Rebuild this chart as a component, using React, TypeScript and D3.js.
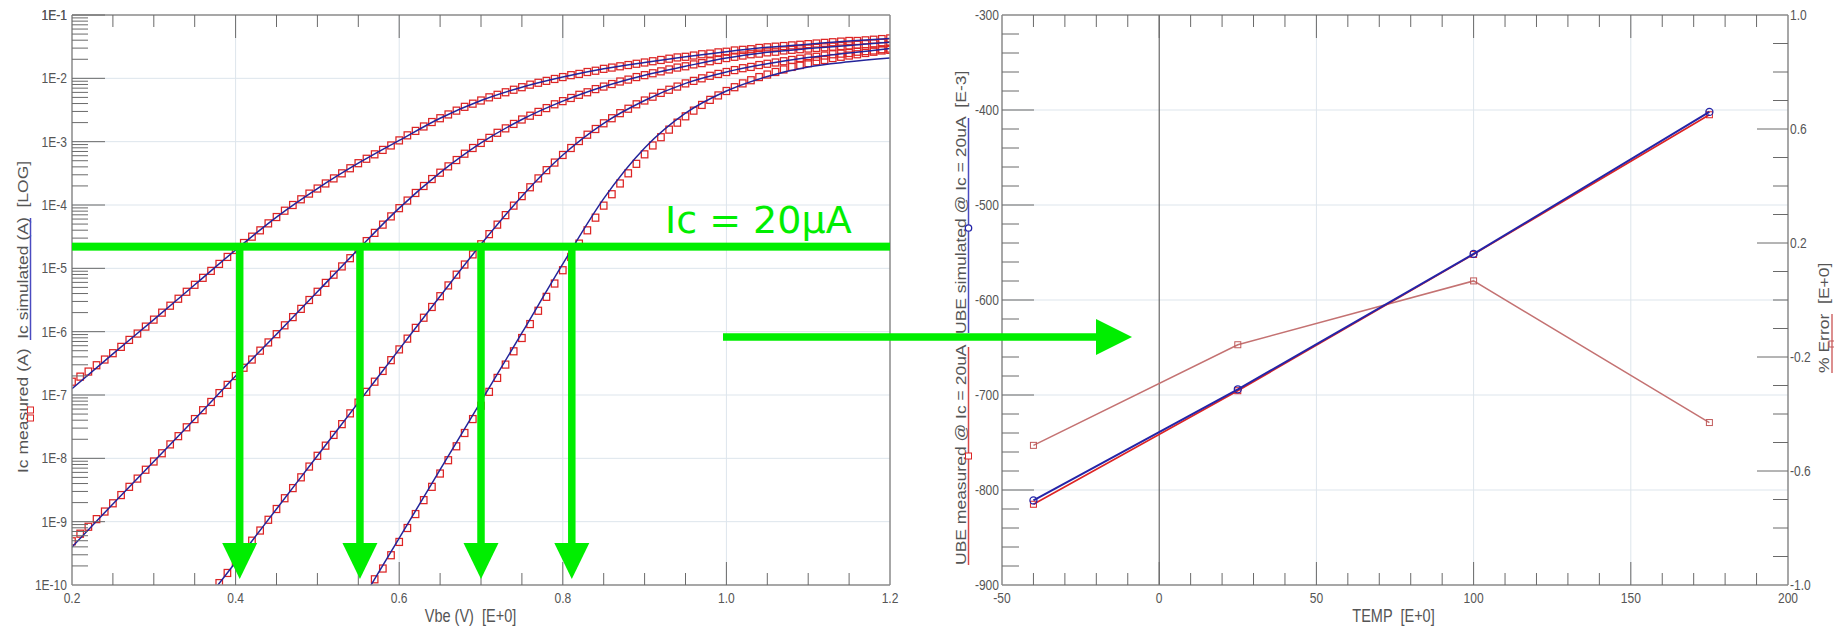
import React, { useEffect, useRef } from 'react';
import * as d3 from 'd3';

// vbe sweep of the measurement (V), 10 mV steps
const vbeSweep = [
  0.20, 0.21, 0.22, 0.23, 0.24, 0.25, 0.26, 0.27, 0.28, 0.29,
  0.30, 0.31, 0.32, 0.33, 0.34, 0.35, 0.36, 0.37, 0.38, 0.39,
  0.40, 0.41, 0.42, 0.43, 0.44, 0.45, 0.46, 0.47, 0.48, 0.49,
  0.50, 0.51, 0.52, 0.53, 0.54, 0.55, 0.56, 0.57, 0.58, 0.59,
  0.60, 0.61, 0.62, 0.63, 0.64, 0.65, 0.66, 0.67, 0.68, 0.69,
  0.70, 0.71, 0.72, 0.73, 0.74, 0.75, 0.76, 0.77, 0.78, 0.79,
  0.80, 0.81, 0.82, 0.83, 0.84, 0.85, 0.86, 0.87, 0.88, 0.89,
  0.90, 0.91, 0.92, 0.93, 0.94, 0.95, 0.96, 0.97, 0.98, 0.99,
  1.00, 1.01, 1.02, 1.03, 1.04, 1.05, 1.06, 1.07, 1.08, 1.09,
  1.10, 1.11, 1.12, 1.13, 1.14, 1.15, 1.16, 1.17, 1.18, 1.19, 1.20,
];

// measured Ic as log10(A), each list lines up with the END of the sweep
const icMeas175 = [
  -6.79, -6.71, -6.63, -6.53, -6.44, -6.34, -6.24, -6.13, -6.03, -5.92,
  -5.81, -5.70, -5.59, -5.48, -5.37, -5.26, -5.15, -5.04, -4.93, -4.82,
  -4.71, -4.60, -4.50, -4.40, -4.29, -4.19, -4.09, -4.00, -3.91, -3.82,
  -3.74, -3.66, -3.58, -3.50, -3.42, -3.34, -3.27, -3.20, -3.13, -3.06,
  -2.98, -2.90, -2.83, -2.76, -2.69, -2.63, -2.57, -2.51, -2.45, -2.40,
  -2.35, -2.30, -2.26, -2.22, -2.18, -2.14, -2.10, -2.07, -2.04, -2.01,
  -1.98, -1.95, -1.93, -1.90, -1.88, -1.85, -1.83, -1.81, -1.79, -1.77,
  -1.75, -1.73, -1.71, -1.69, -1.67, -1.66, -1.64, -1.62, -1.61, -1.59,
  -1.58, -1.56, -1.55, -1.54, -1.52, -1.51, -1.50, -1.49, -1.48, -1.47,
  -1.46, -1.45, -1.44, -1.43, -1.42, -1.41, -1.41, -1.40, -1.39, -1.38, -1.37,
];
const icMeas100 = [
  -9.31, -9.19, -9.08, -8.96, -8.84, -8.71, -8.58, -8.45, -8.32, -8.18,
  -8.05, -7.92, -7.78, -7.65, -7.51, -7.38, -7.24, -7.11, -6.97, -6.84,
  -6.70, -6.57, -6.44, -6.30, -6.17, -6.04, -5.90, -5.77, -5.64, -5.50,
  -5.37, -5.23, -5.10, -4.97, -4.84, -4.70, -4.57, -4.44, -4.31, -4.18,
  -4.05, -3.93, -3.81, -3.70, -3.59, -3.49, -3.39, -3.29, -3.19, -3.10,
  -3.02, -2.94, -2.86, -2.79, -2.72, -2.65, -2.59, -2.53, -2.47, -2.41,
  -2.36, -2.31, -2.26, -2.22, -2.17, -2.13, -2.09, -2.05, -2.02, -1.98,
  -1.95, -1.92, -1.89, -1.86, -1.83, -1.81, -1.78, -1.76, -1.73, -1.71,
  -1.68, -1.66, -1.64, -1.62, -1.61, -1.59, -1.58, -1.56, -1.55, -1.54,
  -1.53, -1.52, -1.51, -1.50, -1.49, -1.48, -1.47, -1.46, -1.45, -1.44, -1.43,
];
const icMeas25 = [
  -9.97, -9.81,
  -9.64, -9.47, -9.30, -9.14, -8.97, -8.80, -8.63, -8.47, -8.30, -8.13,
  -7.96, -7.80, -7.63, -7.46, -7.29, -7.12, -6.95, -6.79, -6.62, -6.45,
  -6.28, -6.11, -5.94, -5.78, -5.61, -5.44, -5.27, -5.10, -4.94, -4.78,
  -4.62, -4.46, -4.31, -4.16, -4.01, -3.86, -3.72, -3.58, -3.45, -3.33,
  -3.21, -3.10, -2.99, -2.89, -2.80, -2.71, -2.63, -2.55, -2.48, -2.41,
  -2.35, -2.29, -2.23, -2.18, -2.13, -2.08, -2.04, -2.00, -1.96, -1.93,
  -1.90, -1.87, -1.84, -1.82, -1.79, -1.77, -1.75, -1.73, -1.71, -1.69,
  -1.67, -1.66, -1.64, -1.62, -1.61, -1.60, -1.58, -1.57, -1.56, -1.54, -1.53,
];
const icMeasM40 = [
  -9.91, -9.74, -9.53,
  -9.32, -9.10, -8.88, -8.66, -8.45, -8.24, -8.03, -7.81, -7.60, -7.38,
  -7.17, -6.95, -6.73, -6.52, -6.31, -6.10, -5.88, -5.67, -5.45, -5.24,
  -5.03, -4.82, -4.61, -4.40, -4.20, -4.01, -3.83, -3.66, -3.50, -3.35,
  -3.20, -3.06, -2.93, -2.81, -2.70, -2.60, -2.51, -2.42, -2.34, -2.27,
  -2.20, -2.14, -2.08, -2.03, -1.98, -1.94, -1.90, -1.86, -1.82, -1.79,
  -1.76, -1.73, -1.71, -1.68, -1.66, -1.64, -1.62, -1.60, -1.58, -1.56, -1.55,
];

// simulated Ic (model curves), coarser vbe grid, log10(A)
const simVbeWide = [0.20, 0.25, 0.30, 0.35, 0.40, 0.45, 0.50, 0.55, 0.60, 0.65, 0.70, 0.75, 0.80, 0.85, 0.90, 0.95, 1.00, 1.05, 1.10, 1.15, 1.20];
const icSim175 = [-6.90, -6.35, -5.81, -5.26, -4.71, -4.19, -3.74, -3.34, -2.98, -2.63, -2.35, -2.14, -1.98, -1.85, -1.75, -1.66, -1.58, -1.51, -1.46, -1.41, -1.37];
const icSim100 = [-9.40, -8.72, -8.05, -7.38, -6.70, -6.04, -5.37, -4.70, -4.05, -3.49, -3.02, -2.65, -2.36, -2.13, -1.95, -1.81, -1.68, -1.59, -1.53, -1.48, -1.43];
const simVbe25 = [0.37, 0.40, 0.45, 0.50, 0.55, 0.60, 0.65, 0.70, 0.75, 0.80, 0.85, 0.90, 0.95, 1.00, 1.05, 1.10, 1.15, 1.20];
const icSim25 = [-10.14, -9.64, -8.80, -7.96, -7.12, -6.28, -5.44, -4.62, -3.86, -3.21, -2.71, -2.35, -2.08, -1.90, -1.77, -1.67, -1.60, -1.53];
const simVbeM40 = [0.56, 0.60, 0.65, 0.70, 0.75, 0.80, 0.85, 0.90, 0.95, 1.00, 1.05, 1.10, 1.15, 1.20];
const icSimM40 = [-10.12, -9.26, -8.18, -7.10, -6.02, -4.93, -3.90, -3.10, -2.55, -2.20, -1.97, -1.82, -1.74, -1.68];

// right chart: UBE @ Ic = 20uA vs temperature
const temps = [-40, 25, 100, 175];
const ubeSim = [-811, -694, -551.5, -402];
const ubeMeas = [-815, -695.5, -552, -405];
const errPct = [-0.51, -0.157, 0.067, -0.43];

// the green annotation: 20uA level and where it cuts each curve
const markLevel = 2.2e-5;
const crossVbe = [0.405, 0.552, 0.70, 0.811];

const W = 1834;
const H = 628;

const App: React.FC = () => {
  const svgRef = useRef<SVGSVGElement | null>(null);

  useEffect(() => {
    if (!svgRef.current) return;
    const svg = d3.select(svgRef.current);
    svg.selectAll('*').remove();

    const sq = 0.83; // the source picture is squeezed sideways, text gets the same squeeze
    const font = "'Liberation Sans', Arial, sans-serif";
    const txtCol = '#555';
    const gridCol = '#dde5ec';
    const axisCol = '#8a8a8a';
    const tickCol = '#6a6a6a';
    const simBlue = '#24249a';
    const measRed = '#dd2424';
    const green = '#00ee00';

    const hText = (x: number, y: number, s: string, size: number, anchor: string, dy = '0') =>
      svg.append('text')
        .attr('transform', `translate(${x},${y}) scale(${sq},1)`)
        .attr('text-anchor', anchor)
        .attr('dy', dy)
        .style('font-family', font)
        .style('font-size', `${size}px`)
        .style('white-space', 'pre')
        .attr('fill', txtCol)
        .text(s);

    const vText = (x: number, y: number, s: string, size: number) =>
      svg.append('text')
        .attr('transform', `translate(${x},${y}) scale(${sq},1) rotate(-90)`)
        .attr('text-anchor', 'start')
        .style('font-family', font)
        .style('font-size', `${size}px`)
        .style('white-space', 'pre')
        .attr('fill', txtCol)
        .text(s);

    const line = (x1: number, y1: number, x2: number, y2: number, col: string, w = 1) =>
      svg.append('line')
        .attr('x1', x1).attr('y1', y1).attr('x2', x2).attr('y2', y2)
        .attr('stroke', col).attr('stroke-width', w);

    // ---------------- left: gummel plot ----------------
    const L = { x0: 72, x1: 890, y0: 15, y1: 585 };
    const xV = d3.scaleLinear().domain([0.2, 1.2]).range([L.x0, L.x1]);
    const yI = d3.scaleLog().domain([1e-10, 1e-1]).range([L.y1, L.y0]);

    const decades = d3.range(-10, 0);
    const vMajor = [0.2, 0.4, 0.6, 0.8, 1.0, 1.2];
    const vMinor = d3.range(0, 21).map(i => 0.2 + i * 0.05);

    // grid
    vMajor.slice(1, -1).forEach(v => line(xV(v), L.y0, xV(v), L.y1, gridCol));
    decades.slice(1, -1).forEach(e => line(L.x0, yI(10 ** e), L.x1, yI(10 ** e), gridCol));

    const defs = svg.append('defs');
    defs.append('clipPath').attr('id', 'clipL')
      .append('rect').attr('x', L.x0).attr('y', L.y0).attr('width', L.x1 - L.x0).attr('height', L.y1 - L.y0);

    const plotL = svg.append('g').attr('clip-path', 'url(#clipL)');

    const simLine = d3.line<[number, number]>()
      .x(d => xV(d[0]))
      .y(d => yI(10 ** d[1]))
      .curve(d3.curveMonotoneX);

    const sims: [number[], number[]][] = [
      [simVbeWide, icSim175],
      [simVbeWide, icSim100],
      [simVbe25, icSim25],
      [simVbeM40, icSimM40],
    ];
    const meas = [icMeas175, icMeas100, icMeas25, icMeasM40];

    // measured squares first, model line on top
    meas.forEach(arr => {
      const off = vbeSweep.length - arr.length;
      plotL.selectAll(null)
        .data(arr)
        .enter().append('rect')
        .attr('x', (_, i) => xV(vbeSweep[off + i]) - 3.25)
        .attr('y', d => yI(10 ** d) - 3.5)
        .attr('width', 6.5)
        .attr('height', 7)
        .attr('fill', 'none')
        .attr('stroke', measRed)
        .attr('stroke-width', 1.25);
    });
    sims.forEach(([vs, ls]) => {
      plotL.append('path')
        .attr('d', simLine(vs.map((v, i) => [v, ls[i]] as [number, number])))
        .attr('fill', 'none')
        .attr('stroke', simBlue)
        .attr('stroke-width', 1.5);
    });

    // frame
    line(L.x0, L.y0, L.x1, L.y0, axisCol, 1.5);
    line(L.x1, L.y0, L.x1, L.y1, axisCol, 1.5);
    line(L.x0, L.y0, L.x0, L.y1, axisCol, 1.5);
    line(L.x0, L.y1, L.x1, L.y1, axisCol, 1.5);

    // x ticks, top and bottom
    vMinor.forEach((v, i) => {
      if (i === 0 || i === vMinor.length - 1) return;
      const len = i % 4 === 0 ? 23 : 12;
      line(xV(v), L.y1, xV(v), L.y1 - len, tickCol);
      line(xV(v), L.y0, xV(v), L.y0 + len, tickCol);
    });
    // y ticks, log minors 2..9
    decades.forEach(e => {
      for (let k = 2; k <= 9; k++) {
        const yy = yI(k * 10 ** e);
        line(L.x0, yy, L.x0 + 16, yy, tickCol);
      }
      if (e > -10) line(L.x0, yI(10 ** e), L.x0 + 33, yI(10 ** e), tickCol);
    });

    vMajor.forEach(v => hText(xV(v), 602.5, v.toFixed(1), 14.5, 'middle'));
    [...decades, -1].forEach(e => hText(67, yI(10 ** e), `1E${e}`, 14.5, 'end', '0.35em'));

    hText(470.5, 622, 'Vbe (V)  [E+0]', 17.5, 'middle');
    vText(28, 473, 'Ic measured (A)  Ic simulated (A)  [LOG]', 17.5);
    // legend marks inside the axis title
    line(30.5, 218, 30.5, 340, '#4a4ac0', 1.5);
    [410, 418].forEach(yy =>
      svg.append('rect').attr('x', 27.5).attr('y', yy - 3).attr('width', 6).attr('height', 6)
        .attr('fill', 'none').attr('stroke', measRed).attr('stroke-width', 1));

    // ---------------- right: UBE vs temperature ----------------
    const R = { x0: 1002, x1: 1788, y0: 15, y1: 585 };
    const xT = d3.scaleLinear().domain([-50, 200]).range([R.x0, R.x1]);
    const yU = d3.scaleLinear().domain([-900, -300]).range([R.y1, R.y0]);
    const yE = d3.scaleLinear().domain([-1, 1]).range([R.y1, R.y0]);

    [50, 100, 150].forEach(t => line(xT(t), R.y0, xT(t), R.y1, gridCol));
    [-800, -700, -600, -500, -400].forEach(u => line(R.x0, yU(u), R.x1, yU(u), gridCol));
    line(xT(0), R.y0, xT(0), R.y1, '#4a4a4a', 1);

    const ptsE = temps.map((t, i) => [xT(t), yE(errPct[i])] as [number, number]);
    const ptsM = temps.map((t, i) => [xT(t), yU(ubeMeas[i])] as [number, number]);
    const ptsS = temps.map((t, i) => [xT(t), yU(ubeSim[i])] as [number, number]);
    const poly = d3.line();

    svg.append('path').attr('d', poly(ptsE)).attr('fill', 'none').attr('stroke', '#c47272').attr('stroke-width', 1.5);
    svg.selectAll(null).data(ptsE).enter().append('rect')
      .attr('x', d => d[0] - 3).attr('y', d => d[1] - 3).attr('width', 6).attr('height', 6)
      .attr('fill', 'none').attr('stroke', '#c05a5a').attr('stroke-width', 1);

    svg.append('path').attr('d', poly(ptsM)).attr('fill', 'none').attr('stroke', measRed).attr('stroke-width', 1.6);
    svg.selectAll(null).data(ptsM).enter().append('rect')
      .attr('x', d => d[0] - 3).attr('y', d => d[1] - 3).attr('width', 6).attr('height', 6)
      .attr('fill', 'none').attr('stroke', measRed).attr('stroke-width', 1);

    svg.append('path').attr('d', poly(ptsS)).attr('fill', 'none').attr('stroke', '#2424a8').attr('stroke-width', 2);
    svg.selectAll(null).data(ptsS).enter().append('circle')
      .attr('cx', d => d[0]).attr('cy', d => d[1]).attr('r', 3.5)
      .attr('fill', 'none').attr('stroke', '#2424a8').attr('stroke-width', 1.3);

    // frame
    line(R.x0, R.y0, R.x1, R.y0, axisCol, 1.5);
    line(R.x1, R.y0, R.x1, R.y1, axisCol, 1.5);
    line(R.x0, R.y0, R.x0, R.y1, axisCol, 1.5);
    line(R.x0, R.y1, R.x1, R.y1, axisCol, 1.5);

    d3.range(-40, 200, 10).forEach(t => {
      const len = t % 50 === 0 ? 23 : 12;
      line(xT(t), R.y1, xT(t), R.y1 - len, tickCol);
      line(xT(t), R.y0, xT(t), R.y0 + len, tickCol);
    });
    d3.range(-880, -300, 20).forEach(u => {
      const len = u % 100 === 0 ? 32 : 17;
      line(R.x0, yU(u), R.x0 + len, yU(u), tickCol);
    });
    d3.range(-9, 10).forEach(i => {
      const len = (i + 10) % 4 === 0 ? 31 : 15;
      line(R.x1, yE(i / 10), R.x1 - len, yE(i / 10), tickCol);
    });

    d3.range(-50, 201, 50).forEach(t => hText(xT(t), 602.5, String(t), 14.5, 'middle'));
    d3.range(-900, -299, 100).forEach(u => hText(999, yU(u), String(u), 14.5, 'end', '0.35em'));
    [-1, -0.6, -0.2, 0.2, 0.6, 1].forEach(e => hText(1790, yE(e), e.toFixed(1), 14.5, 'start', '0.35em'));

    hText(1393.5, 622, 'TEMP  [E+0]', 17.5, 'middle');
    vText(966, 565, 'UBE measured @ Ic = 20uA', 17.5);
    vText(966, 334, 'UBE simulated @ Ic = 20uA  [E-3]', 17.5);
    vText(1829, 373, '% Error  [E+0]', 17.5);

    line(968.5, 347, 968.5, 565, '#d84848', 1.5);
    svg.append('rect').attr('x', 965.5).attr('y', 453).attr('width', 6).attr('height', 6)
      .attr('fill', '#fff').attr('stroke', measRed).attr('stroke-width', 1);
    line(968.5, 118, 968.5, 333, '#4a4ac0', 1.5);
    svg.append('circle').attr('cx', 968.5).attr('cy', 228).attr('r', 3.2)
      .attr('fill', '#fff').attr('stroke', '#2424a8').attr('stroke-width', 1.3);
    line(1832, 314, 1832, 373, '#d06a6a', 1.5);
    svg.append('rect').attr('x', 1829).attr('y', 341).attr('width', 6).attr('height', 6)
      .attr('fill', 'none').attr('stroke', '#c05a5a').attr('stroke-width', 1);

    // ---------------- green annotation on top ----------------
    const yMark = yI(markLevel);
    const headTop = 543;
    const headTip = 579;
    svg.append('rect').attr('x', L.x0).attr('y', yMark - 4).attr('width', L.x1 - L.x0).attr('height', 8).attr('fill', green);
    crossVbe.forEach(v => {
      const cx = xV(v);
      svg.append('rect').attr('x', cx - 3.75).attr('y', yMark).attr('width', 7.5).attr('height', headTop - yMark).attr('fill', green);
      svg.append('polygon')
        .attr('points', `${cx - 17.5},${headTop} ${cx + 17.5},${headTop} ${cx},${headTip}`)
        .attr('fill', green);
    });
    svg.append('rect').attr('x', 723).attr('y', 333.25).attr('width', 374).attr('height', 7.5).attr('fill', green);
    svg.append('polygon').attr('points', '1096,319 1096,355 1132,337').attr('fill', green);
    svg.append('text')
      .attr('x', 665).attr('y', 233)
      .style('font-family', "'DejaVu Sans', sans-serif")
      .style('font-size', '38px')
      .attr('fill', green)
      .text('Ic = 20µA');
  }, []);

  return (
    <svg
      ref={svgRef}
      width={W}
      height={H}
      style={{ position: 'fixed', left: 0, top: 0, background: '#fff', display: 'block' }}
    />
  );
};

export default App;
